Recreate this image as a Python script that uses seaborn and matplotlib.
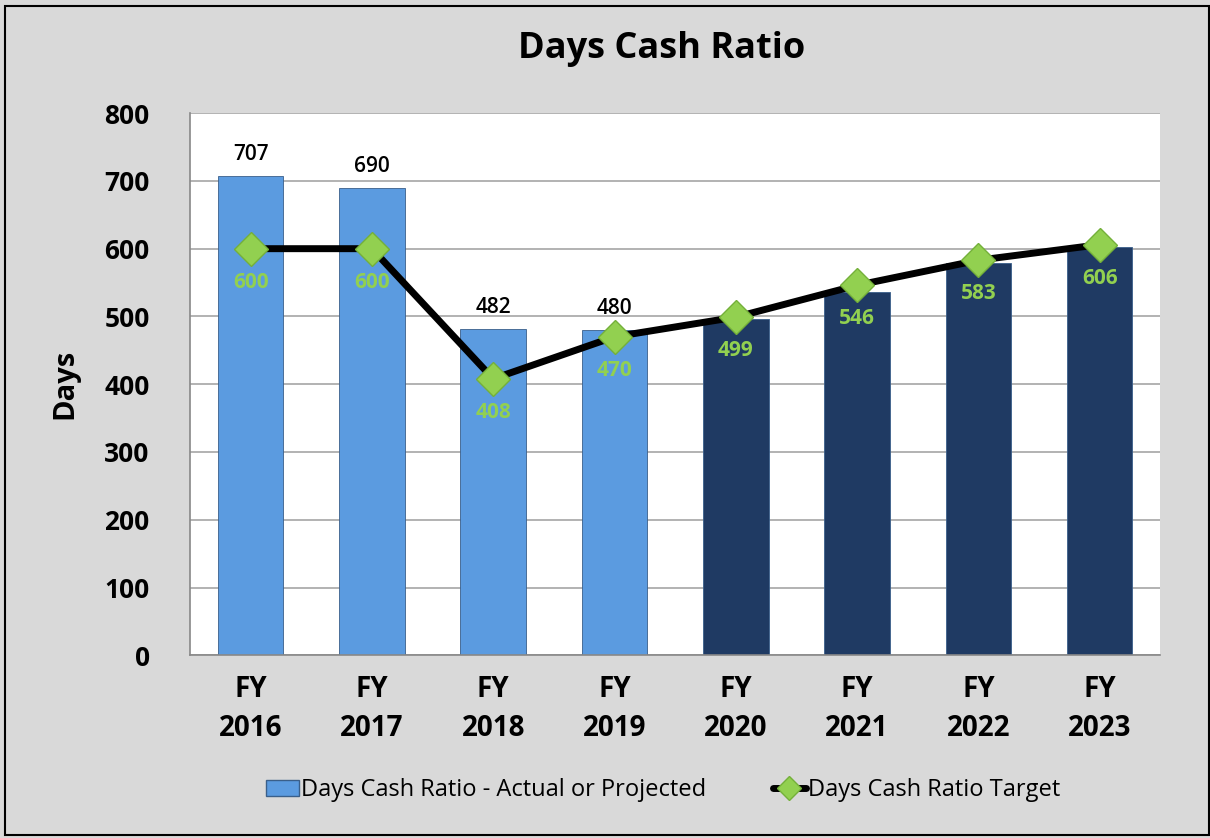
import numpy as np
import pandas as pd
import matplotlib
matplotlib.use("Agg")
import matplotlib.pyplot as plt
import seaborn as sns
from matplotlib.patches import Patch
from matplotlib.lines import Line2D

years = ["FY\n2016", "FY\n2017", "FY\n2018", "FY\n2019", "FY\n2020", "FY\n2021", "FY\n2022", "FY\n2023"]
actual = [707, 690, 482, 480, 496, 536, 579, 602]
target = [600, 600, 408, 470, 499, 546, 583, 606]
labeled_actual = [True, True, True, True, False, False, False, False]
bar_colors = ["#5b9be0"] * 4 + ["#1f3a63"] * 4

sns.set_style("white")
plt.rcParams["font.family"] = ["Open Sans", "DejaVu Sans"]
plt.rcParams["text.color"] = "black"
plt.rcParams["axes.labelcolor"] = "black"
plt.rcParams["xtick.labelcolor"] = "black"
plt.rcParams["ytick.labelcolor"] = "black"

df = pd.DataFrame({"year": years, "actual": actual, "target": target})

fig = plt.figure(figsize=(12.1, 8.38), dpi=100, facecolor="#d9d9d9")
ax = fig.add_axes([0.157, 0.218, 0.802, 0.647])
ax.set_facecolor("white")

sns.barplot(data=df, x="year", y="actual", hue="year", palette=bar_colors,
            legend=False, width=0.54, edgecolor="#3a5f8a", linewidth=0.6,
            saturation=1, ax=ax, zorder=2)

xs = np.arange(len(years))
sns.lineplot(x=xs, y=target, color="black", linewidth=5, marker="D",
             markersize=17, markerfacecolor="#92d050", markeredgecolor="#74b03a",
             markeredgewidth=1, ax=ax, zorder=4)

for i, (a, t) in enumerate(zip(actual, target)):
    if labeled_actual[i]:
        ax.text(i, a + 16, str(a), ha="center", va="bottom", fontsize=15,
                fontweight="semibold", color="black")
    ax.text(i, t - 34, str(t), ha="center", va="top", fontsize=15,
            fontweight="bold", color="#92d050", zorder=5)

ax.set_ylim(0, 800)
ax.set_xlim(-0.5, 7.5)
ax.set_yticks(range(0, 801, 100))
ax.yaxis.grid(True, color="#a6a6a6", linewidth=1.2, zorder=0)
ax.set_axisbelow(True)
ax.set_xlabel("")
ax.set_ylabel("Days", fontsize=21, fontweight="bold", labelpad=18)
ax.set_xticks(xs)
ax.set_xticklabels(years, fontsize=20, fontweight="bold", linespacing=1.45)
ax.set_xticks(np.arange(-0.5, 8, 1), minor=True)
ax.tick_params(axis="x", which="major", length=0, pad=14)
ax.tick_params(axis="x", which="minor", length=7, color="#888888", width=1.2)
ax.tick_params(axis="y", length=7, color="#888888", width=1.2, labelsize=19, pad=22)
for lbl in ax.get_yticklabels():
    lbl.set_fontweight("bold")

for s in ["top", "right"]:
    ax.spines[s].set_visible(False)
for s in ["left", "bottom"]:
    ax.spines[s].set_color("#888888")
    ax.spines[s].set_linewidth(1.2)

fig.text(0.547, 0.942, "Days Cash Ratio", ha="center", va="center",
         fontsize=26, fontweight="bold")

handles = [
    Patch(facecolor="#5b9be0", edgecolor="#3a5f8a", label="Days Cash Ratio - Actual or Projected"),
    Line2D([0], [0], color="black", linewidth=5, marker="D", markersize=12,
           markerfacecolor="#92d050", markeredgecolor="#74b03a",
           label="Days Cash Ratio Target"),
]
fig.legend(handles=handles, loc="center", bbox_to_anchor=(0.548, 0.057), ncol=2,
           frameon=False, fontsize=17, handlelength=1.4, handletextpad=0.1,
           columnspacing=2.8)

border = plt.Rectangle((0.004, 0.003), 0.995, 0.99, transform=fig.transFigure,
                       fill=False, edgecolor="black", linewidth=1.5)
fig.patches.append(border)

fig.savefig("out.png", dpi=100, facecolor=fig.get_facecolor())
